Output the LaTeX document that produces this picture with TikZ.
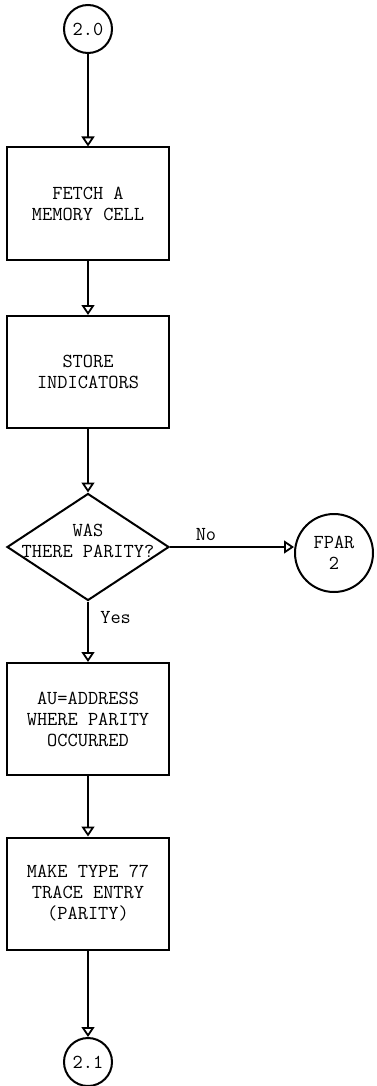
\documentclass[tikz,border=0pt]{standalone}
\usepackage{fontspec}
\usepackage{tikz}
\usetikzlibrary{
	arrows.meta,
	shapes.geometric
}

\begin{document}
\begin{tikzpicture}[x=1pt,y=-1pt,
		txt/.style={font=\ttfamily\fontsize{19.8}{21}\selectfont},
		procbox/.style={txt,draw,line width=2pt,minimum width=162pt,minimum height=112pt,align=center,inner sep=0pt},
		connector/.style={txt,draw,circle,line width=2pt,minimum size=48pt,inner sep=0pt},
		decision/.style={draw,diamond,line width=2pt,minimum width=162pt,minimum height=107pt,inner sep=0pt},
		flow/.style={line width=2pt,-{Triangle[open,width=13pt,length=10pt,line width=1.8pt]}}
	]
		\useasboundingbox (0,0) rectangle (377,1086);
		% main column
		\node[connector] (start) at (88,29) {2.0};
		\node[procbox] (fetch) at (88,203.5) {FETCH A\\MEMORY CELL};
		\node[procbox] (store) at (88,372) {STORE\\INDICATORS};
		\node[decision] (par) at (88,547) {};
		\node[txt,align=center] (partext) at (88,541) {WAS\\THERE PARITY?};
		\node[procbox] (addr) at (88,719) {AU=ADDRESS\\WHERE PARITY\\OCCURRED};
		\node[procbox] (trace) at (88,893.5) {MAKE TYPE 77\\TRACE ENTRY\\(PARITY)};
		\node[connector] (stop) at (88,1062) {2.1};
		% exit on parity
		\node[connector,minimum size=78pt,align=center] (fpar) at (334,553) {FPAR\\2};
		\foreach \a/\b in {start/fetch,fetch/store,store/par,addr/trace,trace/stop}{
			\draw[flow] (\a) -- (\b);
		}
		\draw[flow] (par) -- node[txt,anchor=west,pos=0.27,xshift=8pt] (yes) {Yes} (addr);
		\draw[flow] (par.east) -- node[txt,anchor=south,pos=0.29,yshift=2pt] (no) {No} (par.east -| fpar.west);
	\end{tikzpicture}
\end{document}
